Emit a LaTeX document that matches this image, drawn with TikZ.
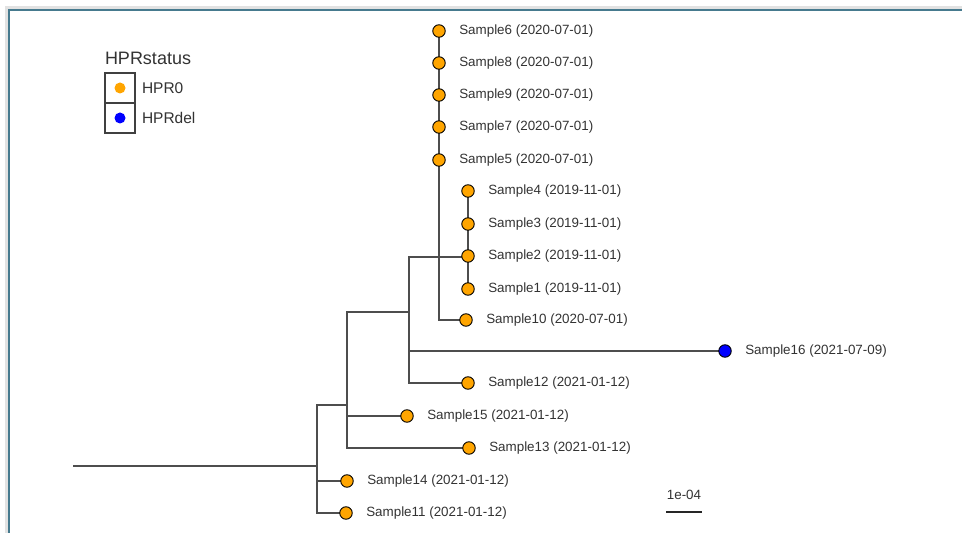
\documentclass[tikz,border=0pt]{standalone}
\usepackage{fontspec}
\setmainfont{Liberation Sans}
\usepackage{tikz}
\usetikzlibrary{positioning}
\definecolor{hprzero}{RGB}{255,165,0}
\definecolor{hprdel}{RGB}{0,0,255}
\definecolor{framegray}{RGB}{226,226,226}
\definecolor{frameblue}{RGB}{70,122,142}
\definecolor{branchgray}{RGB}{77,77,77}
\definecolor{labelgray}{RGB}{51,51,51}
\pgfdeclarelayer{background}
\pgfsetlayers{background,main}
\tikzset{
  treepic/.style={
    x=1bp,y=-1bp
    ,node distance=14bp
    ,inner sep=0pt
    ,outer sep=0pt
  }
  ,branch/.style={draw=branchgray,line width=1.5bp}
  ,dupbranch/.style={branch,line width=2.6bp}
  ,tip/.style={circle,draw=black,line width=0.9bp,minimum size=12.5bp}
  ,tipzero/.style={tip,fill=hprzero}
  ,tipdel/.style={tip,fill=hprdel}
  ,samplename/.style={font=\fontsize{13.4bp}{16bp}\selectfont,text=labelgray}
  ,legtitle/.style={font=\fontsize{18bp}{21bp}\selectfont,text=labelgray}
  ,legname/.style={font=\fontsize{15.5bp}{18bp}\selectfont,text=labelgray}
  ,legkey/.style={
    draw=black!75
    ,line width=1.2bp
    ,minimum width=30bp
    ,minimum height=30bp
  }
  ,legdot/.style={circle,minimum size=11bp}
  ,scalebar/.style={draw=black!85,line width=2.5bp}
}
\newcommand\sampletip[4][tipzero]{
\node[#1] (#2) at (#3) {};
\node[samplename,right=of #2] (#2lab) {#4};
}

\begin{document}
\begin{tikzpicture}[treepic]
    \useasboundingbox (0,0) rectangle (962,533);
    % legend
    \node[legtitle,anchor=west] (legtitle) at (105,58) {HPRstatus};
    \node[legkey] (keyzero) at (120,88) {};
    \node[legkey,below=0pt of keyzero] (keydel) {};
    \node[legdot,fill=hprzero] (dotzero) at (keyzero) {};
    \node[legdot,fill=hprdel] (dotdel) at (keydel) {};
    \node[legname,right=7bp of keyzero] (namezero) {HPR0};
    \node[legname,right=7bp of keydel] (namedel) {HPRdel};
    % inner nodes
    \coordinate (root) at (73,466);
    \coordinate (nA) at (317,466);
    \coordinate (nB) at (347,405);
    \coordinate (nC) at (409,312);
    \coordinate (nD) at (439,257);
    \coordinate (nE) at (468,257);
    \coordinate (bdup) at (347,363);
    \coordinate (cdup) at (409,367);
    % tips
    \sampletip{s6}{439,31}{Sample6 (2020-07-01)}
    \sampletip{s8}{439,63}{Sample8 (2020-07-01)}
    \sampletip{s9}{439,95}{Sample9 (2020-07-01)}
    \sampletip{s7}{439,127}{Sample7 (2020-07-01)}
    \sampletip{s5}{439,160}{Sample5 (2020-07-01)}
    \sampletip{s4}{468,191}{Sample4 (2019-11-01)}
    \sampletip{s3}{468,224}{Sample3 (2019-11-01)}
    \sampletip{s2}{468,256}{Sample2 (2019-11-01)}
    \sampletip{s1}{468,289}{Sample1 (2019-11-01)}
    \sampletip{s10}{466,320}{Sample10 (2020-07-01)}
    \sampletip[tipdel]{s16}{725,351}{Sample16 (2021-07-09)}
    \sampletip{s12}{468,383}{Sample12 (2021-01-12)}
    \sampletip{s15}{407,416}{Sample15 (2021-01-12)}
    \sampletip{s13}{469,448}{Sample13 (2021-01-12)}
    \sampletip{s14}{347,481}{Sample14 (2021-01-12)}
    \sampletip{s11}{346,513}{Sample11 (2021-01-12)}
    \begin{pgfonlayer}{background}
      % window frame
      \fill[framegray] (5,6.5) rectangle (962,533);
      \fill[white] (10,11) rectangle (962,533);
      \draw[frameblue,line width=2bp] (9,533) -- (9,10) -- (962,10);
      % branches
      \draw[branch] (root) -- (nA);
      \draw[branch] (nA) |- (nB);
      \draw[branch] (nA) |- (s14);
      \draw[branch] (nA) |- (s11);
      \draw[branch] (nB) |- (nC);
      \draw[branch] (nB) |- (s15);
      \draw[branch] (nB) |- (s13);
      \draw[dupbranch] (bdup) -- (nB |- s15);
      \draw[branch] (nC) |- (nD);
      \draw[branch] (nC) |- (s16);
      \draw[branch] (nC) |- (s12);
      \draw[dupbranch] (nC |- s16) -- (cdup);
      \draw[branch] (nD) -- (nE);
      \draw[branch] (nD) -- (s6);
      \draw[branch] (nD) |- (s10);
      \draw[dupbranch] (s7) -- (s5);
      \draw[branch] (nE) -- (s4);
      \draw[branch] (nE) -- (s1);
      \draw[dupbranch] (s3) -- (s2);
    \end{pgfonlayer}
    % scale
    \coordinate (barl) at (666,512);
    \coordinate (barr) at (702,512);
    \draw[scalebar] (barl) -- (barr);
    \node[samplename] (barlab) at (684,495) {1e-04};
\end{tikzpicture}
\end{document}
